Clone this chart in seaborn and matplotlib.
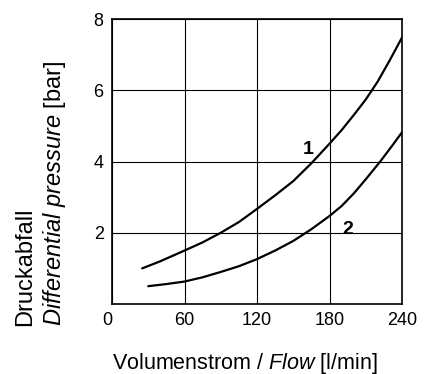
import matplotlib
matplotlib.use('Agg')
import matplotlib.pyplot as plt
import seaborn as sns
import pandas as pd

# curve 1
flow_1 = [25, 40, 60, 75, 90, 105, 120, 135, 150, 165, 180, 190, 200, 210, 220, 230, 240]
dp_1 = [1.0, 1.2, 1.5, 1.73, 2.0, 2.3, 2.67, 3.05, 3.45, 3.95, 4.5, 4.88, 5.3, 5.74, 6.25, 6.85, 7.48]
# curve 2
flow_2 = [30, 45, 60, 75, 90, 105, 120, 135, 150, 165, 180, 190, 200, 210, 222, 232, 240]
dp_2 = [0.5, 0.56, 0.63, 0.75, 0.9, 1.06, 1.26, 1.5, 1.77, 2.1, 2.47, 2.75, 3.1, 3.5, 4.0, 4.45, 4.82]

x_ticks = [0, 60, 120, 180, 240]
y_ticks = [2, 4, 6, 8]

df = pd.concat([
    pd.DataFrame({'flow': flow_1, 'dp': dp_1, 'curve': '1'}),
    pd.DataFrame({'flow': flow_2, 'dp': dp_2, 'curve': '2'}),
])

sns.set_style('white')
plt.rcParams['font.family'] = ['Liberation Sans', 'DejaVu Sans']
plt.rcParams['mathtext.fontset'] = 'custom'
plt.rcParams['mathtext.rm'] = 'Liberation Sans'
plt.rcParams['mathtext.it'] = 'Liberation Sans:italic'
plt.rcParams['text.color'] = 'black'
plt.rcParams['xtick.color'] = 'black'
plt.rcParams['ytick.color'] = 'black'

fig = plt.figure(figsize=(4.3, 3.74), dpi=100)
ax = fig.add_axes([112 / 430, 70 / 374, 290 / 430, 285 / 374])

sns.lineplot(data=df, x='flow', y='dp', units='curve', estimator=None,
             color='black', linewidth=1.6, ax=ax, legend=False)

ax.set_xlim(0, 240)
ax.set_ylim(0, 8)
ax.set_xticks(x_ticks)
ax.set_yticks(y_ticks)
ax.grid(True, color='black', linewidth=0.8)
for s in ax.spines.values():
    s.set_color('black')
    s.set_linewidth(1.2)
ax.tick_params(length=0, labelsize=13, pad=6)
ax.get_xticklabels()[0].set_horizontalalignment('right')
ax.set_xlabel('')
ax.set_ylabel('')

ax.text(162, 4.35, '1', fontsize=14, fontweight='bold', ha='center', va='center')
ax.text(195, 2.1, '2', fontsize=14, fontweight='bold', ha='center', va='center')

fig.text(245 / 430, 1 - 363 / 374, r'Volumenstrom / $\it{Flow}$ [l/min]',
         fontsize=15.5, ha='center', va='center')
fig.text(14 / 430, 1 - 326 / 374, 'Druckabfall\n' + r'$\it{Differential\ pressure}$ [bar]',
         fontsize=17, rotation=90, ha='left', va='bottom', multialignment='left',
         linespacing=1.25)

plt.savefig('out.png', dpi=100)
plt.close()
